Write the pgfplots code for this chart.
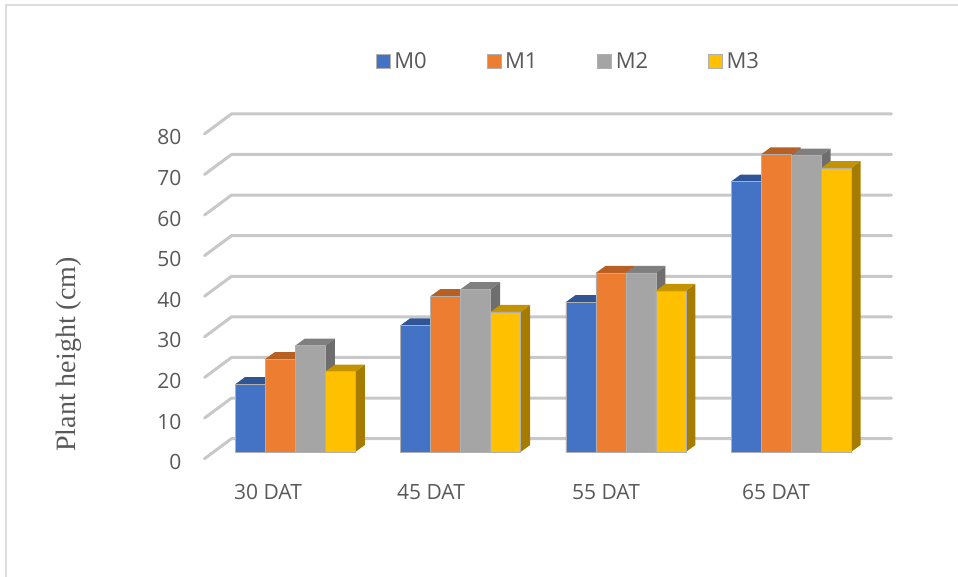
\documentclass[border=0pt]{standalone}
\usepackage{fontspec}
\setmainfont{Open Sans}
\newfontfamily\serifname{Liberation Serif}
\usepackage{pgfplots}
\usepackage{pgfplotstable}
\pgfplotsset{compat=1.18}

\definecolor{labelgrey}{HTML}{595959}
\definecolor{wall}{HTML}{C8C8C8}
\definecolor{frameline}{HTML}{DCDCDC}
\definecolor{edge}{HTML}{B0B0B0}
\definecolor{frontA}{HTML}{4472C4}\definecolor{topA}{HTML}{2F5597}\definecolor{sideA}{HTML}{2A4A80}
\definecolor{frontB}{HTML}{ED7D31}\definecolor{topB}{HTML}{B85F24}\definecolor{sideB}{HTML}{A5541F}
\definecolor{frontC}{HTML}{A5A5A5}\definecolor{topC}{HTML}{7F7F7F}\definecolor{sideC}{HTML}{6E6E6E}
\definecolor{frontD}{HTML}{FFC000}\definecolor{topD}{HTML}{C49300}\definecolor{sideD}{HTML}{A67C00}

% left: left edge of each cluster on the horizontal scale
\pgfplotstableread{
left  M0   M1   M2   M3
235.3 16.7 22.9 26.2 19.8
400.6 31.2 38.4 40.1 34.5
565.8 36.9 44.1 44.1 39.7
731.0 66.6 73.3 73.0 69.9
}\heights

% Depth of a bar, horizontally and in value units
\def\depthx{9.6}
\def\depthy{1.72}
\def\barw{30}

% Side and top faces of one series; #1 column, #2 offset in the cluster, #3 top, #4 side
\newcommand\barfaces[4]{%
  \pgfplotsforeachungrouped \r in {0,1,2,3}{%
    \pgfplotstablegetelem{\r}{#1}\of\heights \let\barv\pgfplotsretval
    \pgfplotstablegetelem{\r}{left}\of\heights \let\barl\pgfplotsretval
    \pgfmathsetmacro\xa{\barl+#2}%
    \pgfmathsetmacro\xb{\xa+\barw}%
    \pgfmathsetmacro\xc{\xb+\depthx}%
    \pgfmathsetmacro\xd{\xa+\depthx}%
    \pgfmathsetmacro\vt{\barv+\depthy}%
    \edef\next{%
      \noexpand\addplot[forget plot,fill=#4,draw=none]
        coordinates {(\xb,0)(\xc,\depthy)(\xc,\vt)(\xb,\barv)} --cycle;
      \noexpand\addplot[forget plot,fill=#3,draw=none]
        coordinates {(\xa,\barv)(\xb,\barv)(\xc,\vt)(\xd,\vt)} --cycle;
    }\next
  }%
}

% Front faces of one series, with its legend swatch
\pgfplotsset{
  front/.style={
    ybar, bar shift=0pt, bar width=\barw, fill=#1, draw=edge, line width=0.3pt,
    legend image code/.code={\fill[fill=#1] (0pt,-7pt) rectangle (14pt,7pt);},
  },
}

\begin{document}
\begin{tikzpicture}
\begin{axis}[
  at={(0,0)}, anchor=south west,
  scale only axis, width=958pt, height=577pt,
  xmin=0, xmax=958, ymin=-30.79, ymax=111.33,
  axis line style={draw=none},
  tick style={draw=none},
  xtick pos=bottom, ytick pos=left,
  xtick={268,431,606,776},
  xticklabels={30 DAT,45 DAT,55 DAT,65 DAT},
  ytick={0,10,...,80},
  /pgf/number format/assume math mode=true,
  tick label style={text=labelgrey, font=\fontsize{21}{25}\selectfont},
  xticklabel style={anchor=center, yshift=85pt, font=\fontsize{21}{25}\selectfont},
  yticklabel style={anchor=east, xshift=185pt, yshift=-10.3pt, font=\fontsize{21}{25}\selectfont},
  ylabel={Plant height (cm)},
  ylabel style={at={(axis description cs:0.0718,0.3855)}, anchor=center, rotate=0,
    text=labelgrey, font=\serifname\fontsize{28}{32}\selectfont},
  legend columns=4,
  legend cell align=left,
  legend style={at={(axis cs:376,96.3)}, anchor=west, draw=none, fill=none, inner sep=0pt, outer sep=0pt,
    font=\fontsize{22}{26}\selectfont, text=labelgrey,
    /tikz/every even column/.append style={column sep=58pt},
    /tikz/every odd column/.append style={column sep=2pt}},
]
% Chart area outline, open on the right and at the bottom
\addplot[forget plot, draw=frameline, line width=2pt] coordinates {(5.5,-30.79)(5.5,109.98)(958,109.98)};

% Wall gridlines with their floor stubs
\pgfplotsinvokeforeach{0,10,...,80}{%
  \pgfmathsetmacro\gb{#1+3.28}%
  \pgfmathsetmacro\gf{#1-1.65}%
  \edef\next{\noexpand\addplot[forget plot, draw=wall, line width=3pt, line cap=round, line join=round]
    coordinates {(204.5,\gf)(231.5,\gb)(891.5,\gb)};}\next
}

\barfaces{M0}{0}{topA}{sideA}
\addplot[front=frontA] table[x expr=\thisrow{left}+15, y=M0] {\heights};
\addlegendentry{M0}
\barfaces{M1}{30}{topB}{sideB}
\addplot[front=frontB] table[x expr=\thisrow{left}+45, y=M1] {\heights};
\addlegendentry{M1}
\barfaces{M2}{60}{topC}{sideC}
\addplot[front=frontC] table[x expr=\thisrow{left}+75, y=M2] {\heights};
\addlegendentry{M2}
\barfaces{M3}{90}{topD}{sideD}
\addplot[front=frontD] table[x expr=\thisrow{left}+105, y=M3] {\heights};
\addlegendentry{M3}
\end{axis}
\end{tikzpicture}
\end{document}
